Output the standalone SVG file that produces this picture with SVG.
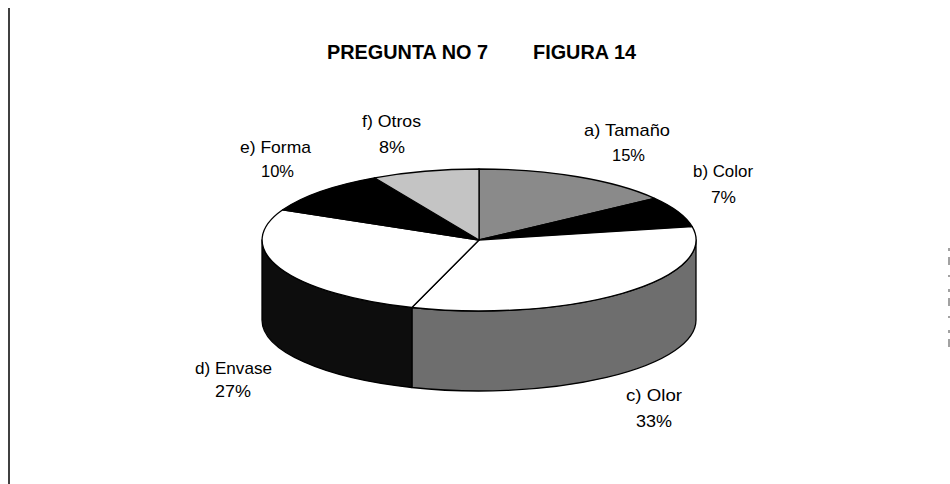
<svg xmlns="http://www.w3.org/2000/svg" width="950" height="484" viewBox="0 0 950 484">
<style>
.lbl{font-family:"Liberation Sans",Arial,sans-serif;font-size:17px;fill:#000}
.ttl{font-family:"Liberation Sans",Arial,sans-serif;font-size:21px;font-weight:bold;fill:#000}
.sl{stroke:#000;stroke-width:1.3;stroke-linejoin:round}
</style>
<rect x="0" y="0" width="950" height="484" fill="#fff"/>
<g id="frame">
<line x1="9" y1="8" x2="9" y2="484" stroke="#000" stroke-width="1.5"/>
<line x1="949" y1="248" x2="949" y2="350" stroke="#444" stroke-width="1" stroke-dasharray="3,6,8,10,2,12"/>
</g>
<g id="title">
<text class="ttl" x="327" y="59" textLength="161" lengthAdjust="spacingAndGlyphs">PREGUNTA NO 7</text>
<text class="ttl" x="533" y="59" textLength="103" lengthAdjust="spacingAndGlyphs">FIGURA 14</text>
</g>
<g id="pie">
<g id="side-c"><path class="sl" fill="#6e6e6e" d="M696,240 A217,71 0 0 1 411.9,307.5 L411.9,387.5 A217,71 0 0 0 696,320 Z"/></g>
<g id="side-d"><path class="sl" fill="#0d0d0d" d="M411.9,307.5 A217,71 0 0 1 262,240 L262,320 A217,71 0 0 0 411.9,387.5 Z"/></g>
<g id="slice-a"><path class="sl" fill="#8a8a8a" d="M479,240 L479,169 A217,71 0 0 1 654.6,198.3 Z"/></g>
<g id="slice-b"><path class="sl" fill="#000" d="M479,240 L654.6,198.3 A217,71 0 0 1 692.2,226.7 Z"/></g>
<g id="slice-c"><path class="sl" fill="#fff" d="M479,240 L692.2,226.7 A217,71 0 0 1 411.9,307.5 Z"/></g>
<g id="slice-d"><path class="sl" fill="#fff" d="M479,240 L411.9,307.5 A217,71 0 0 1 282.7,209.8 Z"/></g>
<g id="slice-e"><path class="sl" fill="#000" d="M479,240 L282.7,209.8 A217,71 0 0 1 374.5,177.8 Z"/></g>
<g id="slice-f"><path class="sl" fill="#c4c4c4" d="M479,240 L374.5,177.8 A217,71 0 0 1 479,169 Z"/></g>
</g>
<g id="labels">
<g id="label-a"><text class="lbl" x="584" y="136" textLength="86" lengthAdjust="spacingAndGlyphs">a) Tamaño</text><text class="lbl" x="612" y="161" textLength="33" lengthAdjust="spacingAndGlyphs">15%</text></g>
<g id="label-b"><text class="lbl" x="693" y="177" textLength="60" lengthAdjust="spacingAndGlyphs">b) Color</text><text class="lbl" x="711" y="203" textLength="25" lengthAdjust="spacingAndGlyphs">7%</text></g>
<g id="label-c"><text class="lbl" x="626" y="401" textLength="56" lengthAdjust="spacingAndGlyphs">c) Olor</text><text class="lbl" x="636" y="427" textLength="36" lengthAdjust="spacingAndGlyphs">33%</text></g>
<g id="label-d"><text class="lbl" x="195" y="374" textLength="77" lengthAdjust="spacingAndGlyphs">d) Envase</text><text class="lbl" x="215" y="397" textLength="36" lengthAdjust="spacingAndGlyphs">27%</text></g>
<g id="label-e"><text class="lbl" x="240" y="153" textLength="71" lengthAdjust="spacingAndGlyphs">e) Forma</text><text class="lbl" x="261" y="177" textLength="33" lengthAdjust="spacingAndGlyphs">10%</text></g>
<g id="label-f"><text class="lbl" x="362" y="127" textLength="59" lengthAdjust="spacingAndGlyphs">f) Otros</text><text class="lbl" x="379" y="153" textLength="26" lengthAdjust="spacingAndGlyphs">8%</text></g>
</g>
</svg>
